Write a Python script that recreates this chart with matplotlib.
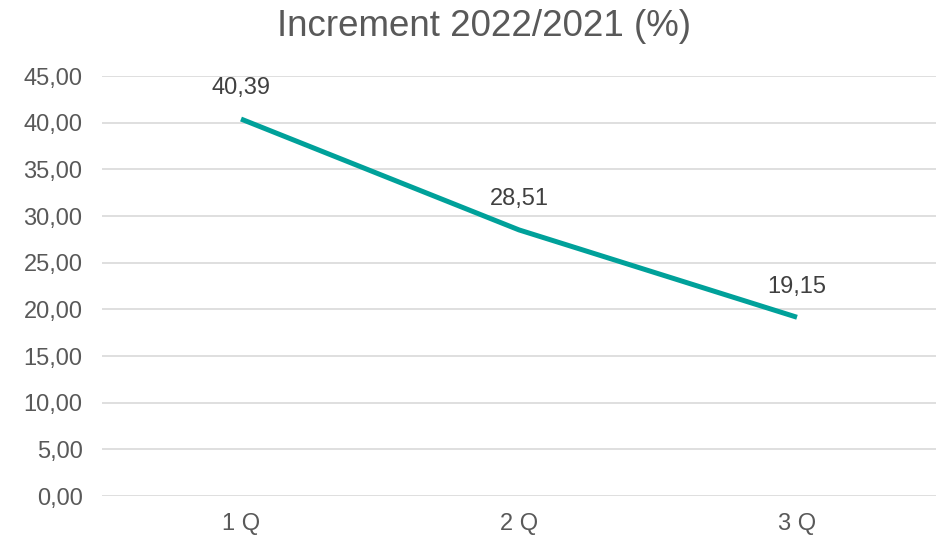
import matplotlib
matplotlib.use("Agg")
import matplotlib.pyplot as plt

categories = ["1 Q", "2 Q", "3 Q"]
values = [40.39, 28.51, 19.15]
labels = ["40,39", "28,51", "19,15"]
yticks = [0, 5, 10, 15, 20, 25, 30, 35, 40, 45]

plt.rcParams['font.family'] = ['Liberation Sans', 'DejaVu Sans']
fig = plt.figure(figsize=(9.36, 5.38), dpi=100)
ax = fig.add_axes([102/936, 42/538, 834/936, 420/538])

x = list(range(len(categories)))
ax.plot(x, values, color="#00A19A", linewidth=3.6, solid_capstyle="butt")
for xi, v, lab in zip(x, values, labels):
    ax.annotate(lab, (xi, v), xytext=(0, 22), textcoords="offset points",
                ha="center", va="center", fontsize=17, color="#404040")

ax.set_xlim(-0.5, 2.5)
ax.set_ylim(0, 45)
ax.set_yticks(yticks)
ax.set_yticklabels([f"{t:.2f}".replace(".", ",") for t in yticks])
ax.set_xticks(x)
ax.set_xticklabels(categories)
ax.tick_params(axis="both", length=0, labelsize=17, labelcolor="#595959")
ax.tick_params(axis="y", pad=14)
ax.tick_params(axis="x", pad=12)
ax.grid(axis="y", color="#D9D9D9", linewidth=1.2)
ax.set_axisbelow(True)
for s in ax.spines.values():
    s.set_visible(False)

fig.text(484/936, 1 - 27/538, "Increment 2022/2021 (%)", ha="center", va="center",
         fontsize=26.5, color="#595959")

fig.savefig("out.png", dpi=100)
